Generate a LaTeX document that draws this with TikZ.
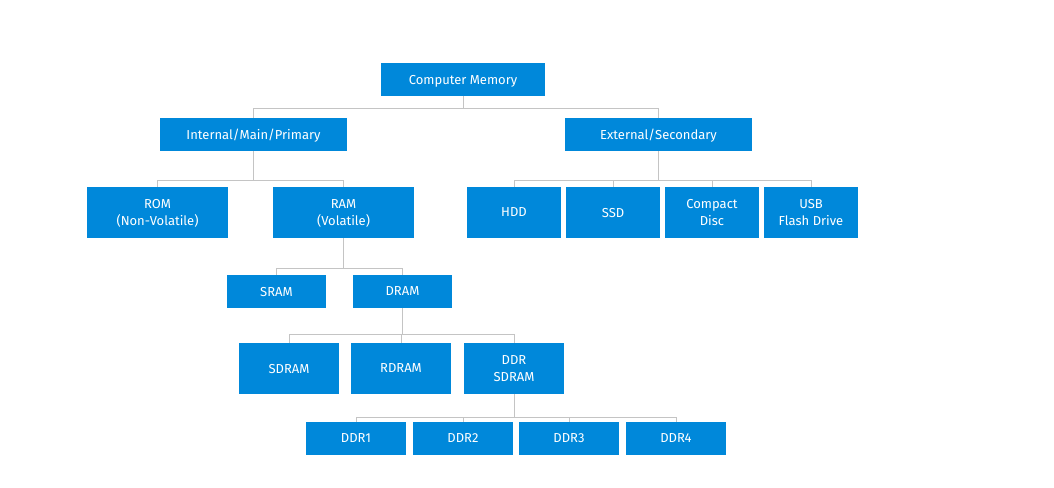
\documentclass[tikz,border=0pt]{standalone}
\usepackage{fontspec}
\setmainfont{Fira Sans}
\usepackage{tikz}

\definecolor{memblue}{HTML}{0088DA}
\definecolor{linkgray}{HTML}{C4C4C4}

\begin{document}
\begin{tikzpicture}[x=1pt, y=-1pt,
		box/.style = {fill=memblue, text=white, inner sep=0pt, align=center, text depth=0pt, minimum height=33pt, font=\fontsize{13}{16.5}\selectfont},
		tall/.style = {box, minimum height=51pt},
		link/.style = {draw=linkgray, line width=1pt}]
		\useasboundingbox (0,0) rectangle (1054,487);

		\node[box, minimum width=164pt] (cm) at (463,79.5) {Computer Memory};
		\node[box, minimum width=187pt] (internal) at (253.5,134.5) {Internal/Main/Primary};
		\node[box, minimum width=187pt] (external) at (658.5,134.5) {External/Secondary};

		\node[tall, minimum width=141pt] (rom) at (157.5,212.5) {ROM\\(Non-Volatile)};
		\node[tall, minimum width=141pt] (ram) at (343.5,212.5) {RAM\\(Volatile)};

		\node[tall, minimum width=94pt] (hdd) at (514,212.5) {HDD};
		\node[tall, minimum width=94pt] (ssd) at (613,212.5) {SSD};
		\node[tall, minimum width=94pt] (cd) at (712,212.5) {Compact\\Disc};
		\node[tall, minimum width=94pt] (usb) at (811,212.5) {USB\\Flash Drive};

		\node[box, minimum width=99pt] (sram) at (276.5,291.5) {SRAM};
		\node[box, minimum width=99pt] (dram) at (402.5,291.5) {DRAM};

		\node[tall, minimum width=100pt] (sdram) at (289,368.5) {SDRAM};
		\node[tall, minimum width=100pt] (rdram) at (401,368.5) {RDRAM};
		\node[tall, minimum width=100pt] (ddrsdram) at (514,368.5) {DDR\\SDRAM};

		\node[box, minimum width=100pt] (ddr1) at (356,438.5) {DDR1};
		\node[box, minimum width=100pt] (ddr2) at (463,438.5) {DDR2};
		\node[box, minimum width=100pt] (ddr3) at (569,438.5) {DDR3};
		\node[box, minimum width=100pt] (ddr4) at (676,438.5) {DDR4};

		% tree connectors
		\foreach \child in {internal, external}
			\draw[link] (cm.south) -- ++(0,12) -| (\child.north);
		\foreach \child in {rom, ram}
			\draw[link] (internal.south) -- ++(0,29) -| (\child.north);
		\foreach \child in {hdd, ssd, cd, usb}
			\draw[link] (external.south) -- ++(0,29) -| (\child.north);
		\foreach \child in {sram, dram}
			\draw[link] (ram.south) -- ++(0,30) -| (\child.north);
		\foreach \child in {sdram, rdram, ddrsdram}
			\draw[link] (dram.south) -- ++(0,26) -| (\child.north);
		\foreach \child in {ddr1, ddr2, ddr3, ddr4}
			\draw[link] (ddrsdram.south) -- ++(0,23) -| (\child.north);
	\end{tikzpicture}
\end{document}
